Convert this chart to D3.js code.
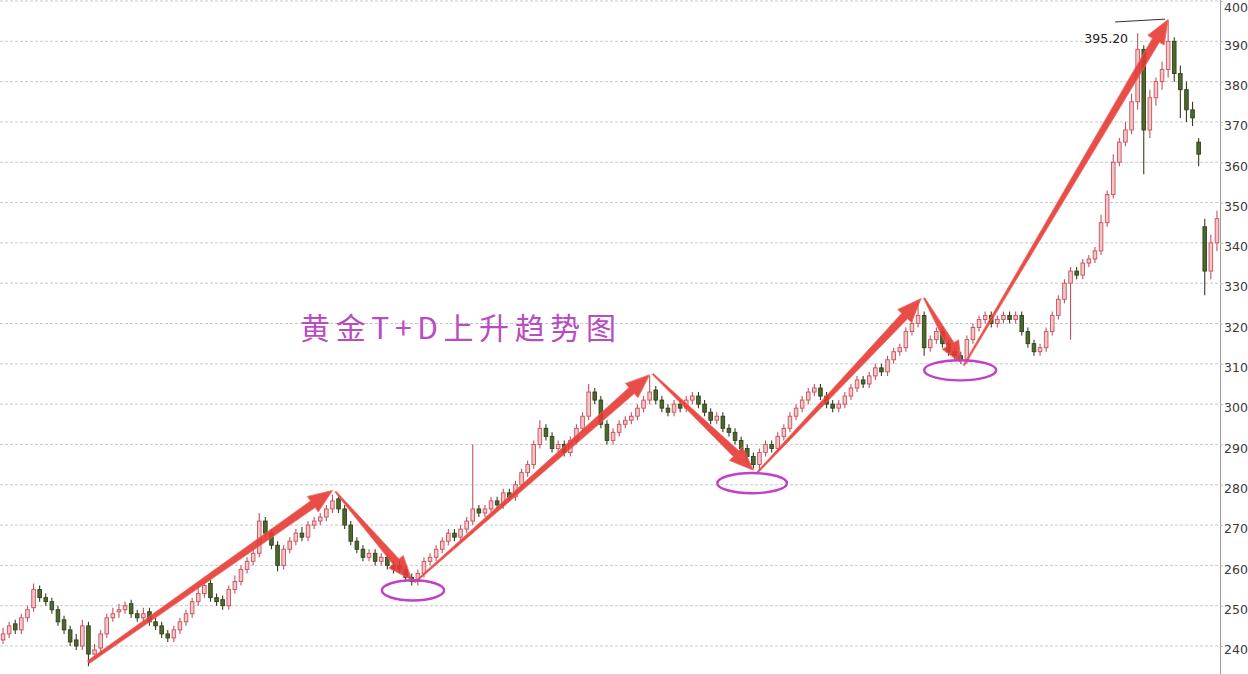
<!DOCTYPE html>
<html><head><meta charset="utf-8">
<script src="https://cdn.jsdelivr.net/npm/d3@7"></script>
<style>html,body{margin:0;padding:0;background:#fff;overflow:hidden}</style>
</head><body><svg id="chart" width="1248" height="674"></svg>
<script>
// ---- data (index = trading session, price = CNY/g) ----
const opens = [
241.5,243,245.5,244,247,249.5,254,252,251,249,
246.5,244,241.5,240,245,238,239.5,243,247,248.5,
249,250.5,248,247,248.5,246,245,243,242,244,
246,248,251,253,255.5,252,251.5,250,254,256,
259,261,263,271,268,265,260,264,266,268,
267,270,271,272,274,276.5,274,270,266,264,
262,263,261,262,260,260,259,257,256,258,
261,262,264,266,268,267,269,271,274,273,
274,276,275,278,277,280,283,285,290,294,
292,289,290,288,291,294,297,303,301,295,
291,293,295,296,297,299,301,303.5,301,299,
298,300,299,301,302,300,298,296,297,294,
293,291,289,287,285,288,290,289,292,294,
297,299,301,303,304,302,300,299,300,302,
304,306,305,307,309,308,311,313,314,318,
320,322,314,316,318,315,313,312,311,316,
319,321,322,320,321,322,321,322,318,315,
313,314,318,322,326,330,333,332,335,336,
338,345,352,360,365,368,375,388,368,376,
380,383,390,382,378,373,365,344,333,340];
const highs = [
244.5,246,246.5,248,250,255.5,255,253,252,250,
247.5,245,243,246.5,246,240.5,244,248,249.5,250.5,
251,251.5,249,249.5,249.5,247,246,244,245,247,
249,252,254.5,256,256.5,253,252.5,255,257.5,260,
262,264,273,272,269,266,265,267,269,269.5,
271,272,273,275,277.5,277.5,275,271,267,265,
264,264,263,263,261,261,260,258,259,262,
263,265,267,269,269,270,272,290,275,275,
277,277,279,279,281,284,286,291,296,295,
293,291,291,292,295,298,305,304,302,296,
294,296,297,298,300,302,307,304.5,302,300,
301,301,302,303,303,301,299,298,298,295,
294,292,290,288,289,291,291,293,295,298,
300,302,304,305,305,303,301,301,303,305,
307,307,308,310,310,312,314,315,319,321,
325,323,317,319,319,316,314,313,317,320,
322,323,323,322,323,323,323,323,319,316,
315,319,323,327,331,334,334,336,337,339,
347,353,362,366,370,377,392,389,378,381,
385,395.2,391,384,380,375,366,346,342,348];
const lows = [
240.5,242,243,243,246,248.5,251,250,248,245,
243,240,239,239,235,237,238,242,246,247,
248,247,246,246,245,244,242,241,241,243,
245,247,250,252,251,250,249,249,253,255,
258,260,262,267,264,258.5,259,263,265,266,
266,269,270,271,273,273,269,265,263,261,
261,260,260,259,258,258,256,255,255,257,
260,261,263,265,266,266,268,270,272,272,
273,274,274,276,276,279,282,284,289,291,
288,288,287,287,290,293,296,300,294,290,
290,292,294,295,296,298,300,300,298,297,
297,298,298,300,299,297,295,295,293,292,
290,288,286,284,283.5,287,288,288,291,293,
296,298,300,302,301,299,298,298,299,301,
303,304,304,306,307,307,310,312,313,317,
319,312,313,315,314,312,311,310,310,315,
318,320,319,319,320,320,320,317,314,312,
312,313,317,321,325,316,331,331,334,335,
337,344,351,359,364,367,373,357,366,374,
378,381,380,371,370,369,359,327,331,338];
const closes = [
243,245,244,247,249,254,252,251,249,246,
244,241,240,245,238,239,243,247,248,249,
250,248,247,248,246,245,243,242,244,246,
248,251,253,255,252,251,250,254,256,259,
261,263,271,268,265,260,264,266,268,267,
270,271,272,274,276,274,270,266,264,262,
263,261,262,260,259,259,257,256,258,261,
262,264,266,268,267,269,271,274,273,274,
276,275,278,277,280,283,285,290,294,292,
289,290,288,291,294,297,303,301,295,291,
293,295,296,297,299,301,303,301,299,298,
300,299,301,302,300,298,296,297,294,293,
291,289,287,285,288,290,289,292,294,297,
299,301,303,304,302,300,299,300,302,304,
306,305,307,309,308,311,313,314,318,320,
322,314,316,318,315,313,312,311,316,319,
321,322,320,321,322,321,322,318,315,313,
314,318,322,326,330,333,332,335,336,338,
345,352,360,365,368,375,388,368,376,380,
383,390,382,378,373,371,362,333,340,346];
const tickValues = [240,250,260,270,280,290,300,310,320,330,340,350,360,370,380,390,400];
// trend arrows: [index, price] start and end
const arrowFrom = [[14,236],[54.5,278.3],[67.5,255.8],[106.5,307.5],[123.5,282.8],[151,326.3],[157.5,309.6]];
const arrowTo   = [[54,278.6],[67,256.4],[106,307.3],[123,283.6],[150.5,326.2],[157,310.3],[191,395.4]];
// low-point ellipses: centre [index, price], radii [index units, price units]
const lowCenters = [[67.2,253.8],[122.8,280.4],[156.9,308.4]];
const lowRadii   = [[5.1,2.5],[5.7,2.5],[5.9,2.5]];
// peak annotation
const peakValue = 395.20;
const peakLeader = [[182.3,394.8],[190.5,395.5]];
const titleText = "黄金T+D上升趋势图";

// ---- drawing ----
const svg = d3.select("#chart");
const W = 1248, H = 674, axisX = 1220;
const N = closes.length;
const xLin = d3.scaleLinear().domain([0, N]).range([0, axisX]);
const xc = i => xLin(i + 0.5);
const y = d3.scaleLinear().domain([240, 400]).range([646, 1]);
const bodyW = 3.6;

svg.append("rect").attr("width", W).attr("height", H).attr("fill", "#fff");

// grid
svg.append("g").selectAll("line").data(tickValues).join("line")
  .attr("x1", 0).attr("x2", axisX)
  .attr("y1", d => y(d)).attr("y2", d => y(d))
  .attr("stroke", "#c9c9c9").attr("stroke-width", 1)
  .attr("stroke-dasharray", "3,2");

// right axis
const axis = d3.axisRight(y).tickValues(tickValues).tickSize(3).tickPadding(1).tickFormat(d3.format("d"));
const ag = svg.append("g").attr("transform", `translate(${axisX},0)`).call(axis);
ag.select(".domain").attr("stroke", "#9a9a9a").attr("d", `M0.5,0V${H}`);
ag.selectAll(".tick line").attr("stroke", "#bbb");
ag.selectAll(".tick text").attr("fill", "#3a3a3a")
  .style("font-family", "DejaVu Sans, sans-serif").style("font-size", "12.5px")
  .attr("dy", d => d === 400 ? "0.85em" : "0.62em");

// candles
const idx = d3.range(N);
const up = i => closes[i] >= opens[i];
const cg = svg.append("g");
cg.selectAll("line").data(idx).join("line")
  .attr("x1", i => xc(i)).attr("x2", i => xc(i))
  .attr("y1", i => y(highs[i])).attr("y2", i => y(lows[i]))
  .attr("stroke", i => up(i) ? "#c8505e" : "#34401f").attr("stroke-width", 1.1);
cg.selectAll("rect").data(idx).join("rect")
  .attr("x", i => xc(i) - bodyW / 2).attr("width", bodyW)
  .attr("y", i => y(Math.max(opens[i], closes[i])))
  .attr("height", i => Math.max(1, Math.abs(y(opens[i]) - y(closes[i]))))
  .attr("fill", i => up(i) ? "#f3c6c8" : "#4b6a2a")
  .attr("stroke", i => up(i) ? "#c8505e" : "#33401e").attr("stroke-width", 0.9);

// arrows (tapered)
function arrowPath(a, b, k) {
  const x0 = xc(a[0]), y0 = y(a[1]), x1 = xc(b[0]), y1 = y(b[1]);
  const dx = x1 - x0, dy = y1 - y0, L = Math.hypot(dx, dy);
  const ux = dx / L, uy = dy / L, nx = -uy, ny = ux;
  const hl = Math.min(24, L * 0.28), hw = 9.5, w0 = k === 0 ? 1.6 : 0.7, w1 = 4;
  const bx = x1 - ux * hl, by = y1 - uy * hl;
  const p = [
    [x0 + nx * w0, y0 + ny * w0], [bx + nx * w1, by + ny * w1], [bx + nx * hw, by + ny * hw],
    [x1, y1], [bx - nx * hw, by - ny * hw], [bx - nx * w1, by - ny * w1], [x0 - nx * w0, y0 - ny * w0]
  ];
  return "M" + p.map(q => q.join(",")).join("L") + "Z";
}
svg.append("g").selectAll("path").data(d3.range(arrowFrom.length)).join("path")
  .attr("d", k => arrowPath(arrowFrom[k], arrowTo[k], k))
  .attr("fill", "#e63a34").attr("fill-opacity", 0.9)
  .attr("stroke", "#ef6a62").attr("stroke-width", 0.8).attr("stroke-linejoin", "round");

// ellipses
svg.append("g").selectAll("ellipse").data(d3.range(lowCenters.length)).join("ellipse")
  .attr("cx", k => xc(lowCenters[k][0]))
  .attr("cy", k => y(lowCenters[k][1]))
  .attr("rx", k => xLin(lowRadii[k][0]) - xLin(0))
  .attr("ry", k => y(0) - y(lowRadii[k][1]))
  .attr("fill", "none").attr("stroke", "#c23fc9").attr("stroke-width", 2.4);

// peak annotation
svg.append("line")
  .attr("x1", xc(peakLeader[0][0])).attr("y1", y(peakLeader[0][1]))
  .attr("x2", xc(peakLeader[1][0])).attr("y2", y(peakLeader[1][1]))
  .attr("stroke", "#333").attr("stroke-width", 1);
svg.append("text")
  .attr("x", xc(peakLeader[0][0]) + 13).attr("y", y(peakLeader[0][1]) + 21)
  .attr("text-anchor", "end")
  .style("font-family", "DejaVu Sans, sans-serif").style("font-size", "12.5px")
  .attr("fill", "#222").text(d3.format(".2f")(peakValue));

// title
svg.append("text")
  .attr("x", 300).attr("y", 339)
  .attr("textLength", 316).attr("lengthAdjust", "spacing")
  .style("font-family", "'Noto Sans CJK SC', sans-serif").style("font-size", "30px")
  .attr("fill", "#b84cc0").text(titleText);
</script></body></html>
